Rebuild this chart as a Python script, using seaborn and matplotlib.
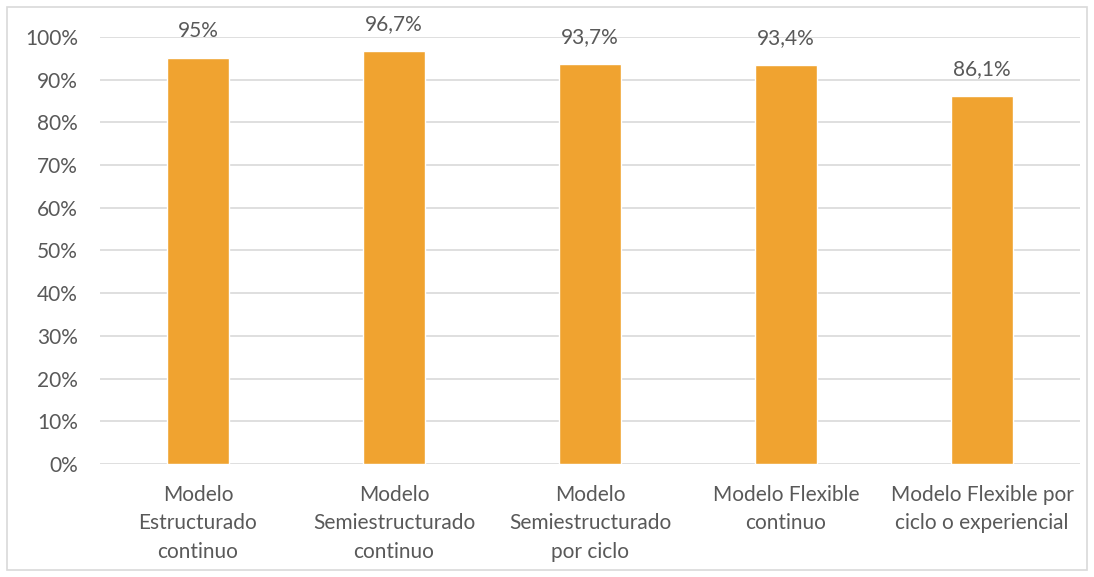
import matplotlib
matplotlib.use("Agg")
import matplotlib.pyplot as plt
import seaborn as sns
import pandas as pd
from matplotlib.ticker import FuncFormatter, MultipleLocator
from matplotlib.patches import Rectangle

categories = ["Modelo\nEstructurado\ncontinuo",
              "Modelo\nSemiestructurado\ncontinuo",
              "Modelo\nSemiestructurado\npor ciclo",
              "Modelo Flexible\ncontinuo",
              "Modelo Flexible por\nciclo o experiencial"]
values = [0.95, 0.967, 0.937, 0.934, 0.861]
value_labels = ["95%", "96,7%", "93,7%", "93,4%", "86,1%"]

sns.set_theme(style="white")
plt.rcParams['font.family'] = ['Lato', 'DejaVu Sans']
text_color = "#595959"

fig = plt.figure(figsize=(10.94, 5.77), dpi=100)
ax = fig.add_axes([100/1094, 1-464/577, 980/1094, 427/577])

df = pd.DataFrame({"cat": categories, "val": values})
sns.barplot(data=df, x="cat", y="val", color="#F0A330", saturation=1, width=0.32, ax=ax, zorder=3)

ax.set_ylim(0, 1)
ax.set_xlim(-0.5, 4.5)
ax.yaxis.set_major_locator(MultipleLocator(0.1))
ax.yaxis.set_major_formatter(FuncFormatter(lambda v, p: f"{int(round(v*100))}%"))
ax.grid(axis="y", color="#D9D9D9", linewidth=1.2, zorder=0)
ax.set_axisbelow(True)
for s in ax.spines.values():
    s.set_visible(False)
ax.set_xlabel("")
ax.set_ylabel("")
ax.tick_params(axis="both", length=0, labelsize=15, colors=text_color)
ax.tick_params(axis="y", pad=16)
ax.tick_params(axis="x", pad=15)
for lbl in ax.get_xticklabels():
    lbl.set_linespacing(1.54)

for i, (v, t) in enumerate(zip(values, value_labels)):
    ax.text(i, v + 0.04, t, ha="center", va="bottom", fontsize=15, color=text_color)

fig.patches.append(Rectangle((7/1094, 7/577), 1080/1094, 563/577, transform=fig.transFigure,
                             fill=False, edgecolor="#D9D9D9", linewidth=1.2))

fig.savefig("out.png", dpi=100)
